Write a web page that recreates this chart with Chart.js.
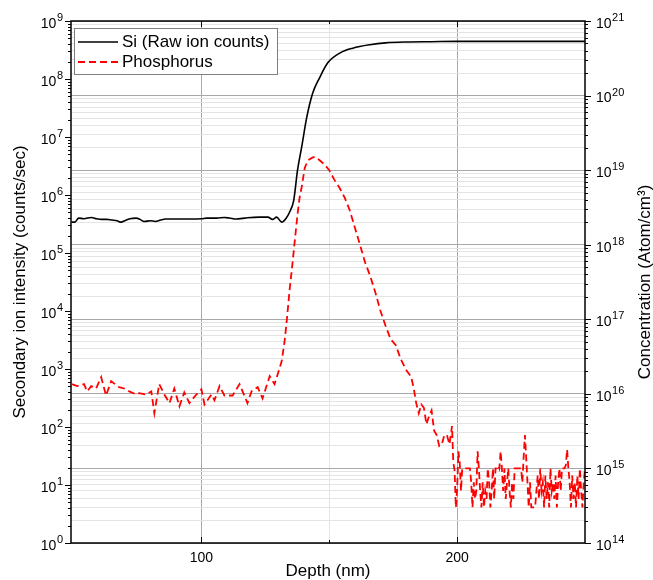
<!DOCTYPE html>
<html>
<head>
<meta charset="utf-8">
<script src="https://cdn.jsdelivr.net/npm/chart.js@4.4.1/dist/chart.umd.min.js"></script>
<style>
html, body { margin: 0; padding: 0; background: #fff; }
#wrap { position: relative; width: 653px; height: 580px; }
</style>
</head>
<body>
<div id="wrap"><canvas id="chart"></canvas></div>
<script>
// Si raw ion counts (left axis)
const siDepth = [49.2, 50.5, 52, 54, 57, 59, 61, 63, 65, 67, 68.6, 70, 72, 74.5, 76, 77.6, 80, 82, 84, 86, 90, 96, 100, 102, 106, 109, 111, 113.7, 116, 118, 122.7, 126, 127.8, 129.4, 131.4, 133, 134.5, 136.1, 137.6, 139.2, 141.2, 143.5, 146.3, 149.4, 154.1, 159.2, 165.9, 172, 180, 190, 200, 210, 220, 230, 240, 250];
const siCounts = [3.4e5, 3.4e5, 4.0e5, 3.9e5, 4.1e5, 3.9e5, 3.8e5, 3.8e5, 3.7e5, 3.6e5, 3.4e5, 3.6e5, 3.9e5, 4.0e5, 3.8e5, 3.5e5, 3.6e5, 3.5e5, 3.7e5, 3.85e5, 3.85e5, 3.85e5, 3.9e5, 4.0e5, 4.0e5, 4.1e5, 4.0e5, 3.85e5, 3.95e5, 4.05e5, 4.15e5, 4.15e5, 3.8e5, 4.15e5, 3.4e5, 3.9e5, 5.1e5, 8.1e5, 2.7e6, 6.7e6, 2.2e7, 5.7e7, 1.07e8, 1.9e8, 2.8e8, 3.4e8, 3.9e8, 4.2e8, 4.35e8, 4.4e8, 4.45e8, 4.45e8, 4.45e8, 4.45e8, 4.45e8, 4.45e8];

// Phosphorus concentration (right axis)
const pDepth = [49.4, 51.4, 54.1, 55.3, 56.9, 58.8, 60.8, 62.7, 64.7, 67.8, 69.8, 71.8, 74.5, 75.7, 78.4, 80.4, 81.6, 83.5, 85.5, 87.5, 89.4, 91.4, 93.3, 95.3, 98, 100, 101.2, 103.9, 105.1, 107.1, 109, 112.2, 114.9, 116.9, 118, 119.6, 122, 123.9, 126.7, 128.6, 129.8, 131.4, 132.5, 133.3, 134.5, 135.7, 136.5, 137.6, 138.4, 139.2, 140.4, 141.6, 143.5, 144.5,
  146, 148, 150, 152, 154, 156, 158, 160, 162, 164, 166, 168, 170, 172, 174, 176, 178, 180, 182,
  183, 184, 185, 186, 187, 188, 189, 190, 191, 192, 193, 194, 195, 196, 197, 198, 198.5, 199, 199.5, 200,
  200.5, 201, 201.5, 202, 202.5, 203, 203.5, 204, 204.5, 205, 205.5, 206, 206.5, 207, 207.5, 208, 208.5, 209, 209.5, 210,
  210.5, 211, 211.5, 212, 212.5, 213, 213.5, 214, 214.5, 215, 215.5, 216, 216.5, 217, 217.5, 218, 218.5, 219, 219.5, 220,
  220.5, 221, 221.5, 222, 222.5, 223, 223.5, 224, 224.5, 225, 225.5, 226, 226.5, 227, 227.5, 228, 228.5, 229, 229.5, 230,
  230.5, 231, 231.5, 232, 232.5, 233, 233.5, 234, 234.5, 235, 235.5, 236, 236.5, 237, 237.5, 238, 238.5, 239, 239.5, 240,
  240.5, 241, 241.5, 242, 242.5, 243, 243.5, 244, 244.5, 245, 245.5, 246, 246.5, 247, 247.5, 248, 248.5, 249, 249.5, 250];
const pConc = [1.35e16, 1.27e16, 1.35e16, 1.08e16, 1.27e16, 1.18e16, 1.67e16, 9.5e15, 1.48e16, 1.23e16, 1.18e16, 1.08e16, 9.8e15, 1.02e16, 9.8e15, 1.08e16, 5.5e15, 1.35e16, 9.8e15, 7.5e15, 1.18e16, 6.8e15, 1.05e16, 7.5e15, 9.8e15, 1.15e16, 7.2e15, 9.8e15, 8.2e15, 1.27e16, 9.5e15, 9.5e15, 1.35e16, 9.3e15, 7.5e15, 1.08e16, 1.23e16, 8.7e15, 1.73e16, 1.35e16, 1.82e16, 2.75e16, 5e16, 9e16, 2.5e17, 6e17, 1.12e18, 2.6e18, 4.3e18, 5.9e18, 1.07e19, 1.35e19, 1.48e19, 1.5e19,
  1.38e19, 1.2e19, 1.0e19, 7.4e18, 5.8e18, 4.3e18, 2.9e18, 1.7e18, 1.0e18, 5.8e17, 3.8e17, 2.3e17, 1.3e17, 8.2e16, 5.4e16, 4.5e16, 2.9e16, 2.1e16, 1.7e16,
  1.2e16, 7.5e15, 5.5e15, 7.2e15, 6.5e15, 3.9e15, 5e15, 6e15, 3.2e15, 2.8e15, 2.0e15, 2.1e15, 2.8e15, 2.8e15, 2.1e15, 3.7e15, 1.2e15, 9.5e14, 3e14, 5.4e14,
  1.7e15, 1.2e15, 5e14, 1e15, 1e15, 1e15, 1e15, 1e15, 1e15, 1e15, 6.5e14, 3e14, 6.5e14, 3.9e14, 5e14, 1.7e15, 1e15, 5e14, 3e14, 6.5e14,
  3e14, 5e14, 3.9e14, 1e15, 6.5e14, 3e14, 5e14, 1e15, 3.9e14, 1e15, 1e15, 1.1e15, 1e15, 1.7e15, 1e15, 5e14, 1e15, 3.9e14, 6.5e14, 1e15,
  5e14, 3e14, 6.5e14, 3.9e14, 1e15, 1e15, 1e15, 1e15, 1e15, 1e15, 6.5e14, 1.4e15, 2.8e15, 1.4e15, 6.5e14, 3e14, 6.5e14, 3e14, 3e14, 3e14,
  3e14, 5e14, 8e14, 3.9e14, 1e15, 5e14, 6.5e14, 3e14, 8e14, 3.9e14, 6.5e14, 3e14, 1e15, 5e14, 6.5e14, 3.9e14, 8e14, 3e14, 6.5e14, 1e15,
  5e14, 1e15, 1e15, 1e15, 1.1e15, 1.8e15, 1e15, 6.5e14, 3e14, 8e14, 3.9e14, 6.5e14, 3e14, 8e14, 3.9e14, 1e15, 5e14, 3e14, 6.5e14, 1e15];

const xTicks = [100, 150, 200];
const xLabels = [100, 200];
const leftDecades = [0, 1, 2, 3, 4, 5, 6, 7, 8, 9];
const rightDecades = [14, 15, 16, 17, 18, 19, 20, 21];

const FONT = "'Liberation Sans', Arial, sans-serif";

function logTicks(decades) {
  const ticks = [];
  decades.forEach(function (d, i) {
    ticks.push({ value: Math.pow(10, d), major: true });
    if (i < decades.length - 1) {
      for (let m = 2; m <= 9; m++) ticks.push({ value: m * Math.pow(10, d), major: false });
    }
  });
  return ticks;
}

function isDecade(v) {
  const l = Math.log10(v);
  return Math.abs(l - Math.round(l)) < 1e-9;
}

// "10" with a raised exponent; side = "left" draws right-aligned at x
function drawPow(ctx, exp, x, y, side) {
  ctx.font = "14px " + FONT;
  const w1 = ctx.measureText("10").width;
  ctx.font = "11px " + FONT;
  const w2 = ctx.measureText(String(exp)).width;
  const x0 = side === "left" ? x - w1 - w2 - 0.5 : x;
  ctx.textAlign = "left";
  ctx.textBaseline = "middle";
  ctx.font = "14px " + FONT;
  ctx.fillText("10", x0, y + 3);
  ctx.font = "11px " + FONT;
  ctx.fillText(String(exp), x0 + w1 + 0.5, y - 3);
}

// frame, tick marks, tick labels, legend box and the right-hand title
const decorations = {
  id: "decorations",
  afterDatasetsDraw: function (chart) {
    const ctx = chart.ctx;
    const a = chart.chartArea;
    const sx = chart.scales.x, sy = chart.scales.y, sy2 = chart.scales.y2;
    ctx.save();
    ctx.strokeStyle = "#000";
    ctx.lineWidth = 1;
    ctx.beginPath();
    sy.ticks.forEach(function (t) {
      const py = Math.round(sy.getPixelForValue(t.value)) + 0.5;
      const len = isDecade(t.value) ? 6 : 3;
      ctx.moveTo(a.left - len, py); ctx.lineTo(a.left, py);
    });
    sy2.ticks.forEach(function (t) {
      const py = Math.round(sy2.getPixelForValue(t.value)) + 0.5;
      const len = isDecade(t.value) ? 6 : 3;
      ctx.moveTo(a.right, py); ctx.lineTo(a.right + len, py);
    });
    sx.ticks.forEach(function (t) {
      const px = Math.round(sx.getPixelForValue(t.value)) + 0.5;
      const len = xLabels.includes(t.value) ? 6 : 3;
      ctx.moveTo(px, a.bottom); ctx.lineTo(px, a.bottom - len);
      ctx.moveTo(px, a.top); ctx.lineTo(px, a.top + len);
    });
    ctx.stroke();

    ctx.lineWidth = 1.5;
    ctx.strokeRect(a.left, a.top, a.right - a.left, a.bottom - a.top);

    // power-of-ten labels
    ctx.fillStyle = "#000";
    leftDecades.forEach(function (d) {
      drawPow(ctx, d, a.left - 8, sy.getPixelForValue(Math.pow(10, d)), "left");
    });
    rightDecades.forEach(function (d) {
      drawPow(ctx, d, a.right + 11, sy2.getPixelForValue(Math.pow(10, d)), "right");
    });

    // legend
    const bx = a.left + 3, by = a.top + 7, bw = 203, bh = 46;
    ctx.fillStyle = "#fff";
    ctx.fillRect(bx, by, bw, bh);
    ctx.strokeStyle = "#7f7f7f";
    ctx.lineWidth = 1;
    ctx.strokeRect(bx + 0.5, by + 0.5, bw, bh);
    ctx.font = "17px " + FONT;
    ctx.textBaseline = "middle";
    ctx.textAlign = "left";
    chart.data.datasets.forEach(function (ds, i) {
      const cy = by + 14 + i * 20;
      ctx.strokeStyle = ds.borderColor;
      ctx.lineWidth = ds.borderWidth;
      ctx.setLineDash(ds.borderDash || []);
      ctx.beginPath();
      ctx.moveTo(bx + 4, cy); ctx.lineTo(bx + 44, cy);
      ctx.stroke();
      ctx.setLineDash([]);
      ctx.fillStyle = "#000";
      ctx.fillText(ds.label, bx + 48, cy);
    });

    // right axis title, reading bottom to top
    ctx.translate(chart.width - 8, (a.top + a.bottom) / 2);
    ctx.rotate(-Math.PI / 2);
    ctx.textAlign = "center";
    ctx.textBaseline = "middle";
    ctx.font = "17px " + FONT;
    ctx.fillStyle = "#000";
    ctx.fillText("Concentration (Atom/cm\u00b3)", 0, 0);
    ctx.restore();
  }
};

const ctx = document.getElementById("chart").getContext("2d");
new Chart(ctx, {
  type: "line",
  data: {
    datasets: [
      {
        label: "Si (Raw ion counts)",
        data: siDepth.map(function (d, i) { return { x: d, y: siCounts[i] }; }),
        yAxisID: "y",
        borderColor: "#000000",
        borderWidth: 1.6,
        pointRadius: 0,
        cubicInterpolationMode: "monotone"
      },
      {
        label: "Phosphorus",
        data: pDepth.map(function (d, i) { return { x: d, y: pConc[i] }; }),
        yAxisID: "y2",
        borderColor: "#ff0000",
        borderWidth: 1.8,
        borderDash: [7, 4],
        pointRadius: 0,
        tension: 0
      }
    ]
  },
  options: {
    responsive: true,
    maintainAspectRatio: false,
    animation: false,
    layout: { padding: { top: 21, left: 0, right: 0, bottom: 0 } },
    plugins: { legend: { display: false }, tooltip: { enabled: false } },
    scales: {
      x: {
        type: "linear",
        position: "bottom",
        min: 49,
        max: 250,
        afterBuildTicks: function (s) { s.ticks = xTicks.map(function (v) { return { value: v }; }); },
        afterFit: function (s) { s.height = 37; },
        ticks: {
          autoSkip: false,
          maxRotation: 0,
          padding: 7,
          color: "#000",
          font: { family: FONT, size: 14 },
          callback: function (v) { return xLabels.includes(v) ? String(v) : ""; }
        },
        grid: {
          drawTicks: false,
          color: function (c) { return c.tick && c.tick.value === 150 ? "#e4e4e4" : "#a8a8a8"; }
        },
        border: { display: false },
        title: {
          display: true,
          text: "Depth (nm)",
          color: "#000",
          font: { family: FONT, size: 17, lineHeight: 1 },
          padding: { top: 0, bottom: 0 }
        }
      },
      y: {
        type: "logarithmic",
        position: "left",
        min: 1,
        max: 1e9,
        afterBuildTicks: function (s) { s.ticks = logTicks(leftDecades); },
        afterFit: function (s) { s.width = 71; },
        ticks: { display: false, autoSkip: false },
        grid: { drawOnChartArea: false, drawTicks: false },
        border: { display: false },
        title: {
          display: true,
          text: "Secondary ion intensity (counts/sec)",
          color: "#000",
          font: { family: FONT, size: 17, lineHeight: 1 },
          padding: { top: 12, bottom: 0 }
        }
      },
      y2: {
        type: "logarithmic",
        position: "right",
        min: 1e14,
        max: 1e21,
        afterBuildTicks: function (s) { s.ticks = logTicks(rightDecades); },
        afterFit: function (s) { s.width = 68; },
        ticks: { display: false, autoSkip: false },
        grid: {
          drawTicks: false,
          color: function (c) { return c.tick && isDecade(c.tick.value) ? "#a8a8a8" : "#e4e4e4"; }
        },
        border: { display: false }
      }
    }
  },
  plugins: [decorations]
});
</script>
</body>
</html>
